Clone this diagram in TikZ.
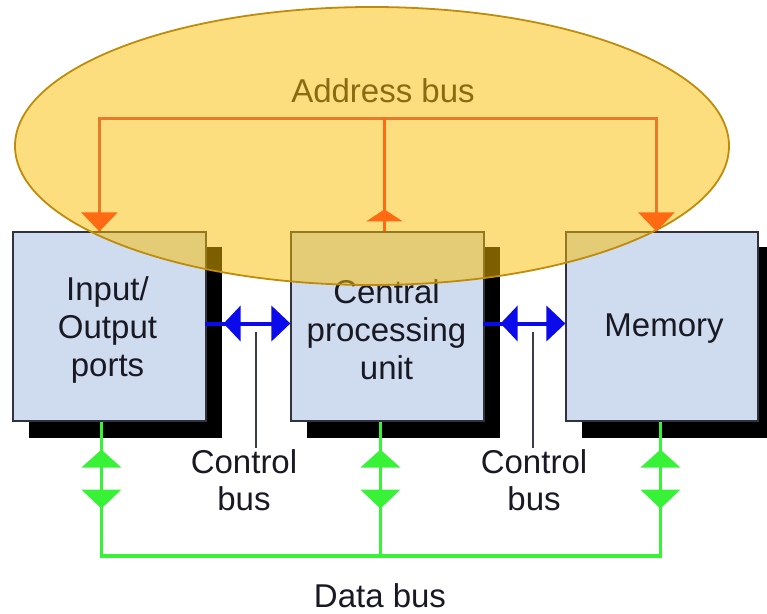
\documentclass[tikz,border=0pt]{standalone}
\usepackage{fontspec}
\setmainfont{Liberation Sans}
\usetikzlibrary{arrows.meta,calc}

\definecolor{boxfill}{RGB}{207,220,239}
\definecolor{boxline}{RGB}{50,50,62}
\definecolor{addrline}{RGB}{232,122,42}
\definecolor{addrtip}{RGB}{255,106,19}
\definecolor{hilite}{RGB}{250,190,0}
\definecolor{hiliteedge}{RGB}{190,140,10}
\definecolor{ctrlblue}{RGB}{10,10,235}
\definecolor{datagreen}{RGB}{55,242,55}
\definecolor{ink}{RGB}{25,25,35}

\pgfdeclarelayer{shadowlayer}
\pgfsetlayers{shadowlayer,main}

\begin{document}
\begin{tikzpicture}[x=1pt,y=-1pt,
  unit/.style={draw=boxline, line width=1.2pt, fill=boxfill,
    minimum width=193pt, minimum height=189pt, inner sep=0pt},
  unittext/.style={align=center, text=ink, inner sep=0pt,
    font=\fontsize{33}{38}\selectfont},
  caption/.style={text=ink, align=center, inner sep=1pt,
    font=\fontsize{33}{37}\selectfont},
  addr/.style={draw=addrline, line width=3pt},
  addrhead/.style={draw=addrtip, line width=3pt, -{Triangle[width=36pt,length=19pt]}},
  ctrl/.style={draw=ctrlblue, line width=4pt},
  ctrlheads/.style={{Triangle[width=35pt,length=17pt]}-{Triangle[width=35pt,length=19pt]}},
  data/.style={draw=datagreen, line width=3.5pt},
  stub/.style={draw=ink!85, line width=1.3pt},
]
\useasboundingbox (0,0) rectangle (767,613);

% functional units
\node[unit] (io)  at (109.5,326.5) {};
\node[unit] (cpu) at (387.5,326.5) {};
\node[unit, minimum width=192pt] (mem) at (662,326.5) {};
\node[unittext] (iotext)  at ($(io)+(-2,3)$) {Input/\\Output\\ports};
\node[unittext] (cputext) at ($(cpu)+(-1,3)$) {Central\\processing\\unit};
\node[unittext] (memtext) at ($(mem)+(2,2)$) {Memory};

% hard drop shadows behind the units
\begin{pgfonlayer}{shadowlayer}
  \foreach \u in {io,cpu,mem}
    \fill[black] ($(\u.south west)+(17,16)$) rectangle ($(\u.north east)+(15,16)$);
\end{pgfonlayer}

% address bus
\coordinate (abus) at (0,118);
\coordinate (aL) at ($(io.north west)+(87,0)$);
\coordinate (aC) at ($(cpu.north west)+(94,0)$);
\coordinate (aR) at ($(mem.north west)+(91,0)$);
\node[text=ink, inner sep=0pt, anchor=base, font=\fontsize{33}{37}\selectfont]
  (addrlabel) at (383,102) {Address bus};

% highlighted region over the address bus
\draw[fill=hilite, fill opacity=0.5, draw=hiliteedge, line width=1.8pt]
  (372,146) ellipse [x radius=357, y radius=139];

\draw[addr] (aL) -- (aL |- abus) -- (aR |- abus) -- (aR);
\draw[addr, draw=addrtip] (aC) -- (aC |- abus);
\draw[addrhead] ($(aL)+(0,-20)$) -- (aL);
\draw[addrhead] ($(aR)+(0,-20)$) -- (aR);
\draw[addrhead, -{Triangle[width=36pt,length=12pt]}] (aC) -- ($(aC)+(0,-22)$);

% control buses
\coordinate (c1a) at ($(io.east)+(-2,-3)$);
\coordinate (c1b) at ($(cpu.west)+(0,-3)$);
\coordinate (c2a) at ($(cpu.east)+(-2,-3)$);
\coordinate (c2b) at ($(mem.west)+(0,-3)$);
\draw[ctrl] (c1a) -- ($(c1a)+(22,0)$);
\draw[ctrl, ctrlheads, shorten <=19pt] (c1a) -- (c1b);
\draw[ctrl] (c2a) -- ($(c2a)+(20,0)$);
\draw[ctrl, ctrlheads, shorten <=18pt] (c2a) -- (c2b);

\node[caption] (cb1) at (244,480) {Control\\bus};
\node[caption] (cb2) at (534,480) {Control\\bus};
\coordinate (s1) at (256,332);
\coordinate (s2) at (533,332);
\draw[stub] (s1) -- (s1 |- cb1.north);
\draw[stub] (s2) -- (s2 |- cb2.north);

% data bus
\coordinate (dbus) at (0,556);
\coordinate (gL) at ($(io.south west)+(89,0)$);
\coordinate (gC) at ($(cpu.south west)+(90,0)$);
\coordinate (gR) at ($(mem.south west)+(95,0)$);
\draw[data] (gL) -- (gL |- dbus) -- (gR |- dbus) -- (gR);
\draw[data] (gC) -- (gC |- dbus);
\foreach \g in {gL,gC,gR}{
  \fill[datagreen] ($(\g)+(-20,46)$) -- ($(\g)+(20,46)$) -- ($(\g)+(0,28)$) -- cycle;
  \fill[datagreen] ($(\g)+(-20,68)$) -- ($(\g)+(20,68)$) -- ($(\g)+(0,87)$) -- cycle;
}
\node[caption, anchor=base] (dlabel) at (380,607) {Data bus};
\end{tikzpicture}
\end{document}
